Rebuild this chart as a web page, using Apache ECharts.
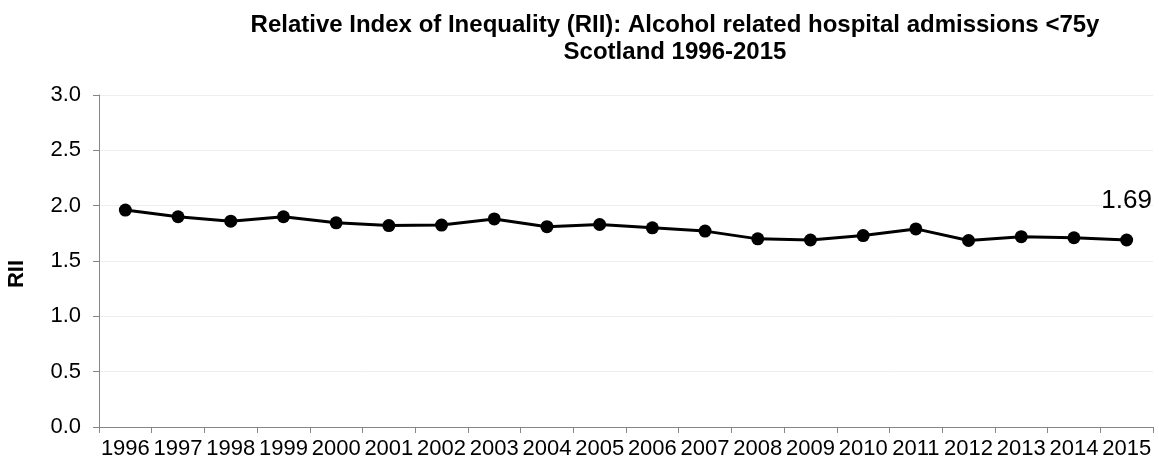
<!DOCTYPE html>
<html>
<head>
<meta charset="utf-8">
<script src="https://cdn.jsdelivr.net/npm/echarts@6/dist/echarts.min.js"></script>
<style>
html,body{margin:0;padding:0;background:#fff;}
#chart{width:1159px;height:462px;}
</style>
</head>
<body>
<div id="chart"></div>
<script>
var titleLines = ['Relative Index of Inequality (RII): Alcohol related hospital admissions <75y', 'Scotland 1996-2015'];
var years = ['1996','1997','1998','1999','2000','2001','2002','2003','2004','2005','2006','2007','2008','2009','2010','2011','2012','2013','2014','2015'];
var rii = [1.96,1.90,1.86,1.90,1.845,1.82,1.825,1.88,1.81,1.83,1.80,1.77,1.70,1.69,1.73,1.79,1.685,1.72,1.71,1.69];
var yAxisName = 'RII';
var yMin = 0, yMax = 3, yStep = 0.5;
var labelIndex = rii.length - 1;

var font = 'Liberation Sans, Arial, Helvetica, sans-serif';
var chart = echarts.init(document.getElementById('chart'));
chart.setOption({
  animation: false,
  backgroundColor: '#fff',
  title: {
    text: titleLines.join('\n'),
    left: 670,
    top: 7,
    textAlign: 'center',
    textStyle: {fontFamily: font, fontWeight: 'bold', fontSize: 24, lineHeight: 27, color: '#000'}
  },
  graphic: [{
    type: 'text',
    x: 17, y: 274,
    rotation: Math.PI / 2,
    style: {text: yAxisName, font: 'bold 22px ' + font, fill: '#000', align: 'center', verticalAlign: 'middle'}
  }],
  grid: {left: 99, right: 6, top: 95, bottom: 35, containLabel: false},
  xAxis: {
    type: 'category',
    data: years,
    boundaryGap: true,
    axisLine: {lineStyle: {color: '#868686', width: 1}},
    axisTick: {show: true, length: 6, lineStyle: {color: '#868686'}},
    axisLabel: {fontFamily: font, fontSize: 22, color: '#000', margin: 11, interval: 0},
    splitLine: {show: false}
  },
  yAxis: {
    type: 'value',
    min: yMin, max: yMax, interval: yStep,
    axisLine: {show: true, lineStyle: {color: '#868686', width: 1}},
    axisTick: {show: true, length: 6, lineStyle: {color: '#868686'}},
    axisLabel: {fontFamily: font, fontSize: 22, color: '#000', margin: 18,
      formatter: function (v) { return v.toFixed(1); }},
    splitLine: {show: true, lineStyle: {color: '#eeeeee', width: 1}}
  },
  series: [{
    type: 'line',
    data: rii.map(function (v, i) {
      return i === labelIndex ? {value: v, label: {show: true, formatter: function(p){ return p.value.toFixed(2); }}} : v;
    }),
    symbol: 'circle',
    symbolSize: 13,
    lineStyle: {color: '#000', width: 3},
    itemStyle: {color: '#000'},
    label: {show: false, position: 'top', distance: 20, fontFamily: font, fontSize: 26, color: '#000'}
  }]
});
</script>
</body>
</html>
